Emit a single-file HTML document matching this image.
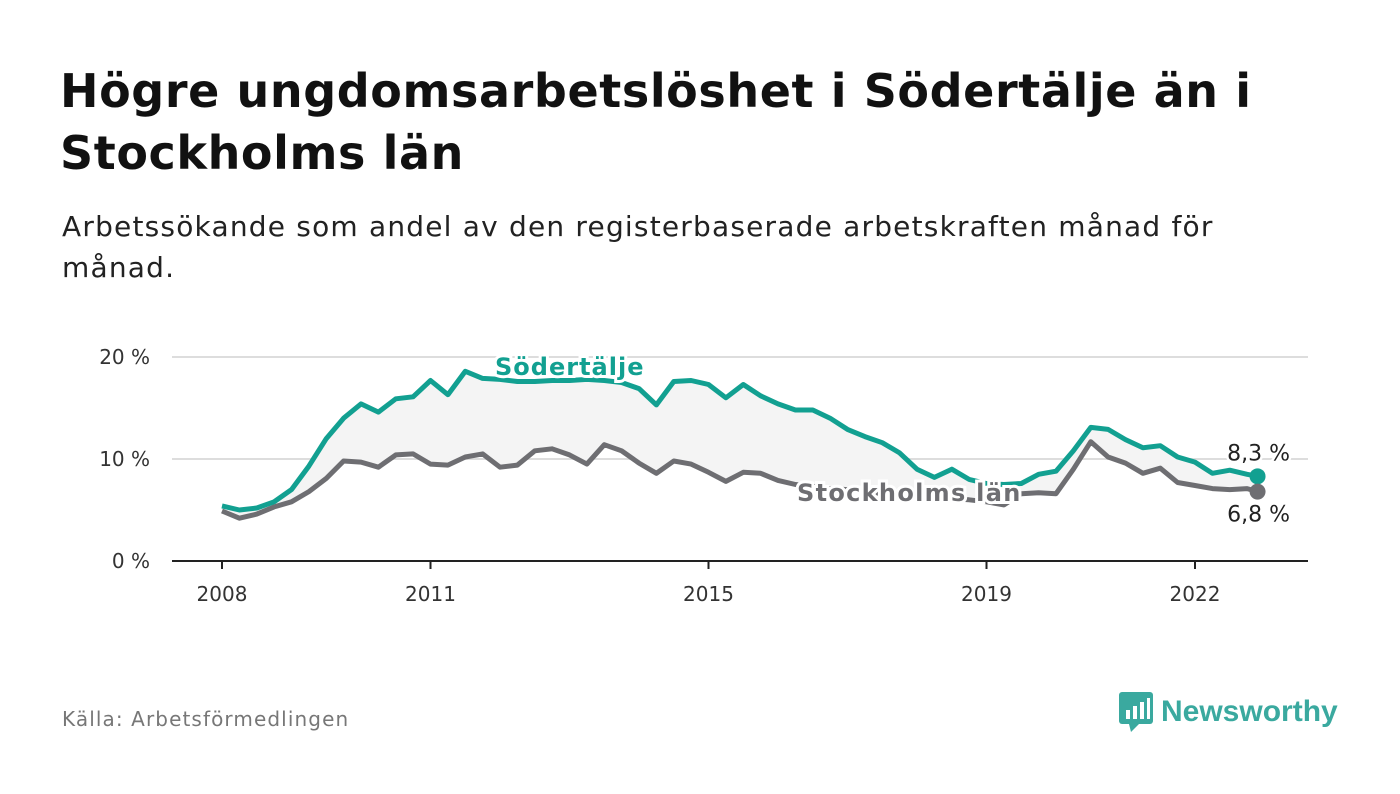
<!DOCTYPE html>
<html><head><meta charset="utf-8"><style>
body{margin:0;background:#fff;font-family:"DejaVu Sans","Liberation Sans",sans-serif}
.t{position:absolute;left:60px;top:60px;font-size:46px;font-weight:bold;color:#111;line-height:62px;margin:0;letter-spacing:0.6px}
.s{position:absolute;left:62px;top:206px;font-size:28px;color:#222;line-height:41px;width:1300px;letter-spacing:1.2px}
</style></head><body>
<div style="position:relative;width:1400px;height:794px;overflow:hidden">
<h1 class="t">Högre ungdomsarbetslöshet i Södertälje än i<br>Stockholms län</h1>
<div class="s">Arbetssökande som andel av den registerbaserade arbetskraften månad för<br>månad.</div>
<svg id="c" width="1400" height="794" style="position:absolute;left:0;top:0;font-family:'DejaVu Sans',sans-serif"></svg>
<div style="position:absolute;left:62px;top:707px;font-size:20px;color:#777;letter-spacing:1.1px">Källa: Arbetsförmedlingen</div>
<div style="position:absolute;left:1119px;top:690px;display:flex;align-items:center">
<svg width="36" height="44"><rect x="0" y="2" width="34" height="32" rx="3" fill="#3aa99f"/><polygon points="10,34 20,34 12,42" fill="#3aa99f"/><rect x="7" y="20" width="4" height="9" fill="#fff"/><rect x="14" y="16" width="4" height="13" fill="#fff"/><rect x="21" y="12" width="4" height="17" fill="#fff"/><rect x="28" y="8" width="3" height="21" fill="#fff"/></svg>
<span style="font-family:'Liberation Sans',sans-serif;font-size:30px;font-weight:bold;color:#3aa99f;margin-left:6px">Newsworthy</span></div>
</div>
<script>
const years=[2008,2008.25,2008.5,2008.75,2009,2009.25,2009.5,2009.75,2010,2010.25,2010.5,2010.75,2011,2011.25,2011.5,2011.75,2012,2012.25,2012.5,2012.75,2013,2013.25,2013.5,2013.75,2014,2014.25,2014.5,2014.75,2015,2015.25,2015.5,2015.75,2016,2016.25,2016.5,2016.75,2017,2017.25,2017.5,2017.75,2018,2018.25,2018.5,2018.75,2019,2019.25,2019.5,2019.75,2020,2020.25,2020.5,2020.75,2021,2021.25,2021.5,2021.75,2022,2022.25,2022.5,2022.75,2022.9];
const sodertalje=[5.4,5.0,5.2,5.8,7.0,9.3,12.0,14.0,15.4,14.6,15.9,16.1,17.7,16.3,18.6,17.9,17.8,17.6,17.6,17.7,17.7,17.8,17.7,17.5,16.9,15.3,17.6,17.7,17.3,16.0,17.3,16.2,15.4,14.8,14.8,14.0,12.9,12.2,11.6,10.6,9.0,8.2,9.0,8.0,7.6,7.5,7.6,8.5,8.8,10.8,13.1,12.9,11.9,11.1,11.3,10.2,9.7,8.6,8.9,8.5,8.3];
const stockholm=[4.9,4.2,4.6,5.3,5.8,6.8,8.1,9.8,9.7,9.2,10.4,10.5,9.5,9.4,10.2,10.5,9.2,9.4,10.8,11.0,10.4,9.5,11.4,10.8,9.6,8.6,9.8,9.5,8.7,7.8,8.7,8.6,7.9,7.5,7.3,7.1,7.0,6.8,6.6,6.5,6.3,6.2,6.1,6.0,5.8,5.5,6.6,6.7,6.6,9.0,11.7,10.2,9.6,8.6,9.1,7.7,7.4,7.1,7.0,7.1,6.8];
const yTicks=[0,10,20];
const xTicks=[2008,2011,2015,2019,2022];
const NS="http://www.w3.org/2000/svg",svg=document.getElementById('c');
const X=t=>222+69.5*(t-2008), Y=v=>561-10.2*v;
function mk(tag,a,txt){const e=document.createElementNS(NS,tag);for(const k in a)e.setAttribute(k,a[k]);if(txt!==undefined)e.textContent=txt;svg.appendChild(e);return e;}
yTicks.forEach(v=>{
 if(v>0){const g=mk('line',{x1:172,x2:1308,y1:Y(v),y2:Y(v),stroke:'#ddd','stroke-width':2});
 
 }
 const l=mk('text',{x:150,y:Y(v)+7,'text-anchor':'end','font-size':20,fill:'#333'},v+' %');
 
 
});
const ax=mk('line',{x1:172,x2:1308,y1:561,y2:561,stroke:'#222','stroke-width':2});


xTicks.forEach(t=>{
 const tk=mk('line',{x1:X(t),x2:X(t),y1:561,y2:569,stroke:'#222','stroke-width':2});
 
 
 const l=mk('text',{x:X(t),y:601,'text-anchor':'middle','font-size':20,fill:'#333'},t);
 
 
});
const pts=s=>years.map((t,i)=>X(t).toFixed(1)+','+Y(s[i]).toFixed(1));
const area=mk('polygon',{points:pts(sodertalje).concat(pts(stockholm).reverse()).join(' '),fill:'#f4f4f4'});


const l2=mk('polyline',{points:pts(stockholm).join(' '),fill:'none',stroke:'#6e6e72','stroke-width':5,'stroke-linejoin':'round'});


const l1=mk('polyline',{points:pts(sodertalje).join(' '),fill:'none',stroke:'#12a091','stroke-width':5,'stroke-linejoin':'round'});


const last=years.length-1;
const d1=mk('circle',{cx:X(years[last]),cy:Y(sodertalje[last]),r:8,fill:'#12a091'});


const d2=mk('circle',{cx:X(years[last]),cy:Y(stockholm[last]),r:8,fill:'#6e6e72'});


const e1=mk('text',{x:1290,y:Y(sodertalje[last])-16,'text-anchor':'end','font-size':22,fill:'#222',stroke:'#fff','stroke-width':5,'paint-order':'stroke'},String(sodertalje[last]).replace('.',',')+' %');


const e2=mk('text',{x:1290,y:Y(stockholm[last])+30,'text-anchor':'end','font-size':22,fill:'#222',stroke:'#fff','stroke-width':5,'paint-order':'stroke'},String(stockholm[last]).replace('.',',')+' %');


const s1=mk('text',{x:495,y:375,'font-size':24,'font-weight':'bold','letter-spacing':1,fill:'#12a091',stroke:'#fff','stroke-width':6,'paint-order':'stroke'},'Södertälje');


const s2=mk('text',{x:797,y:501,'font-size':24,'font-weight':'bold','letter-spacing':1.3,fill:'#6e6e72',stroke:'#fff','stroke-width':6,'paint-order':'stroke'},'Stockholms län');


</script>
</body></html>
